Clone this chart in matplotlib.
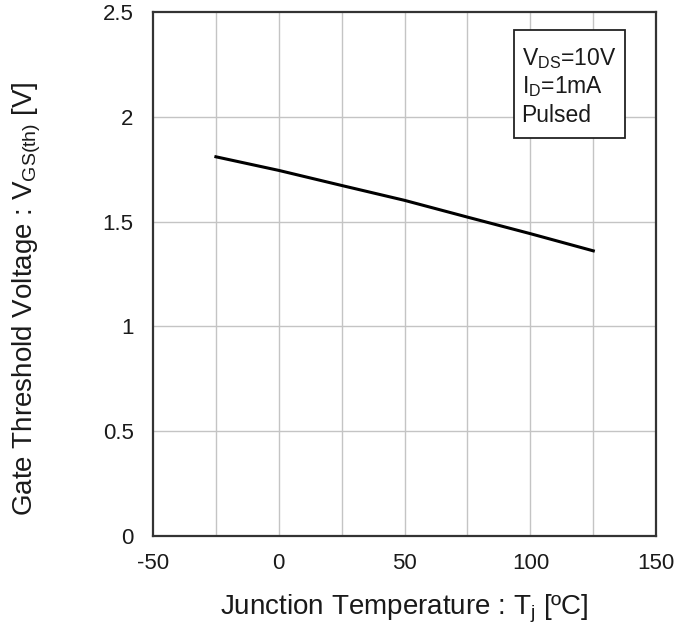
import matplotlib
matplotlib.use('Agg')
import matplotlib.pyplot as plt
from matplotlib.patches import Rectangle

plt.rcParams['font.family'] = ['Liberation Sans', 'DejaVu Sans']
plt.rcParams['mathtext.default'] = 'regular'
plt.rcParams['axes.unicode_minus'] = False

# Dados
temperatura = [-25, 0, 25, 50, 75, 100, 125]
vgs_th = [1.81, 1.745, 1.673, 1.602, 1.522, 1.443, 1.361]

x_ticks = [-50, 0, 50, 100, 150]
y_ticks = [0, 0.5, 1, 1.5, 2, 2.5]
y_tick_labels = ['0', '0.5', '1', '1.5', '2', '2.5']
condicoes = ['V$_{DS}$=10V', 'I$_{D}$=1mA', 'Pulsed']

fig = plt.figure(figsize=(6.8, 6.31), dpi=100)
ax = fig.add_axes([0.225, 0.1506, 0.740, 0.830])

# Grade: vertical a cada 25, horizontal a cada 0.5
for xv in range(-25, 150, 25):
    ax.axvline(xv, color='#c4c4c4', lw=1.0, zorder=1)
for yv in y_ticks[1:-1]:
    ax.axhline(yv, color='#c4c4c4', lw=1.0, zorder=1)

ax.plot(temperatura, vgs_th, color='black', lw=2.2, zorder=3)

ax.set_xlim(-50, 150)
ax.set_ylim(0, 2.5)
ax.set_xticks(x_ticks)
ax.set_yticks(y_ticks)
ax.set_yticklabels(y_tick_labels)
ax.tick_params(length=0, labelsize=16, colors='#1a1a1a')
ax.tick_params(axis='x', pad=12)
ax.tick_params(axis='y', pad=14)

for s in ax.spines.values():
    s.set_color('#333333')
    s.set_linewidth(1.6)

ax.set_xlabel('Junction Temperature : T$_{j}$ [ºC]', fontsize=20, labelpad=14, color='#1a1a1a')
ax.set_ylabel('Gate Threshold Voltage : V$_{GS(th)}$ [V]', fontsize=20, color='#1a1a1a')
ax.yaxis.set_label_coords(-0.219, 0.454)

# Caixa com as condições
ax.add_patch(Rectangle((93.5, 1.898), 44.2, 0.519, facecolor='white', edgecolor='#222222',
                       lw=1.3, zorder=4))
for i, linha in enumerate(condicoes):
    ax.text(96.5, [2.250, 2.115, 1.976][i], linha, fontsize=16.5, ha='left', va='baseline',
            color='#1a1a1a', zorder=5)

fig.savefig('out.png', dpi=100)
